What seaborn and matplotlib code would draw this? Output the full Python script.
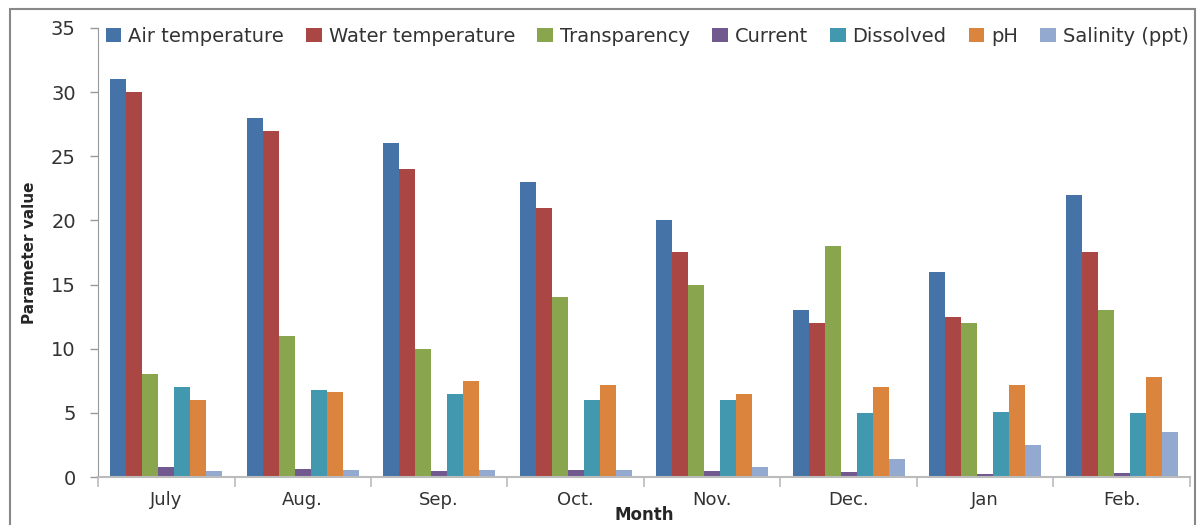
import matplotlib
matplotlib.use("Agg")
import matplotlib.pyplot as plt
import seaborn as sns
import pandas as pd
from matplotlib.patches import Rectangle

months = ["July", "Aug.", "Sep.", "Oct.", "Nov.", "Dec.", "Jan", "Feb."]
air_temp = [31, 28, 26, 23, 20, 13, 16, 22]
water_temp = [30, 27, 24, 21, 17.5, 12, 12.5, 17.5]
transparency = [8, 11, 10, 14, 15, 18, 12, 13]
current = [0.8, 0.65, 0.5, 0.55, 0.5, 0.4, 0.2, 0.3]
dissolved = [7, 6.8, 6.5, 6, 6, 5, 5.1, 5]
ph = [6, 6.6, 7.5, 7.2, 6.5, 7, 7.2, 7.8]
salinity = [0.5, 0.55, 0.55, 0.55, 0.8, 1.4, 2.5, 3.5]

series_names = ["Air temperature", "Water temperature", "Transparency", "Current",
                "Dissolved", "pH", "Salinity (ppt)"]
series_vals = [air_temp, water_temp, transparency, current, dissolved, ph, salinity]
colors = ["#4572A7", "#AA4643", "#89A54E", "#71588F", "#4198AF", "#DB843D", "#93A9CF"]

rows = []
for name, vals in zip(series_names, series_vals):
    for m, v in zip(months, vals):
        rows.append({"Month": m, "Parameter": name, "Value": v})
df = pd.DataFrame(rows)

sns.set_style("white")
plt.rcParams['font.family'] = ['DejaVu Sans']

fig = plt.figure(figsize=(11.97, 5.25), dpi=100)
ax = fig.add_axes([0.0819, 0.0914, 0.9121, 0.8553])

sns.barplot(data=df, x="Month", y="Value", hue="Parameter", order=months,
            hue_order=series_names, palette=colors, width=0.82, ax=ax,
            saturation=1, legend=True, linewidth=0, edgecolor="none")

ax.set_ylim(0, 35)
ax.set_xlim(-0.5, len(months) - 0.5)
ax.set_yticks(range(0, 36, 5))
ax.tick_params(axis='y', labelsize=14, length=6, width=1, direction='out', left=True, pad=10)
for lab in ax.get_yticklabels():
    lab.set_color("#333333")
ax.tick_params(axis='x', labelsize=13, length=0, pad=10, labelcolor="#333333")
ax.set_xticks([i + 0.5 for i in range(-1, len(months))], minor=True)
ax.tick_params(axis='x', which='minor', length=7, width=1.2, color="#bbbbbb", bottom=True)

for s in ["top", "right"]:
    ax.spines[s].set_visible(False)
ax.spines["left"].set_color("#999999")
ax.spines["bottom"].set_color("#bbbbbb")
ax.spines["bottom"].set_linewidth(1.5)
ax.tick_params(axis='y', color="#999999")

ax.set_ylabel("Parameter value", fontsize=11, fontweight='bold', labelpad=10)
ax.set_xlabel("Month", fontsize=12, fontweight='bold', labelpad=-2)

leg = ax.legend(loc="upper left", bbox_to_anchor=(0.0, 1.02), ncol=7, frameon=False,
                fontsize=14, handlelength=0.8, handleheight=0.7, handletextpad=0.35,
                columnspacing=1.15, borderaxespad=0)
for t in leg.get_texts():
    t.set_color("#333333")

fig.patches.append(Rectangle((10/1197, -0.1), 1185/1197, 1.1 - 9/525, transform=fig.transFigure,
                             fill=False, edgecolor="#888888", linewidth=1.5))

fig.savefig("out.png", dpi=100)
